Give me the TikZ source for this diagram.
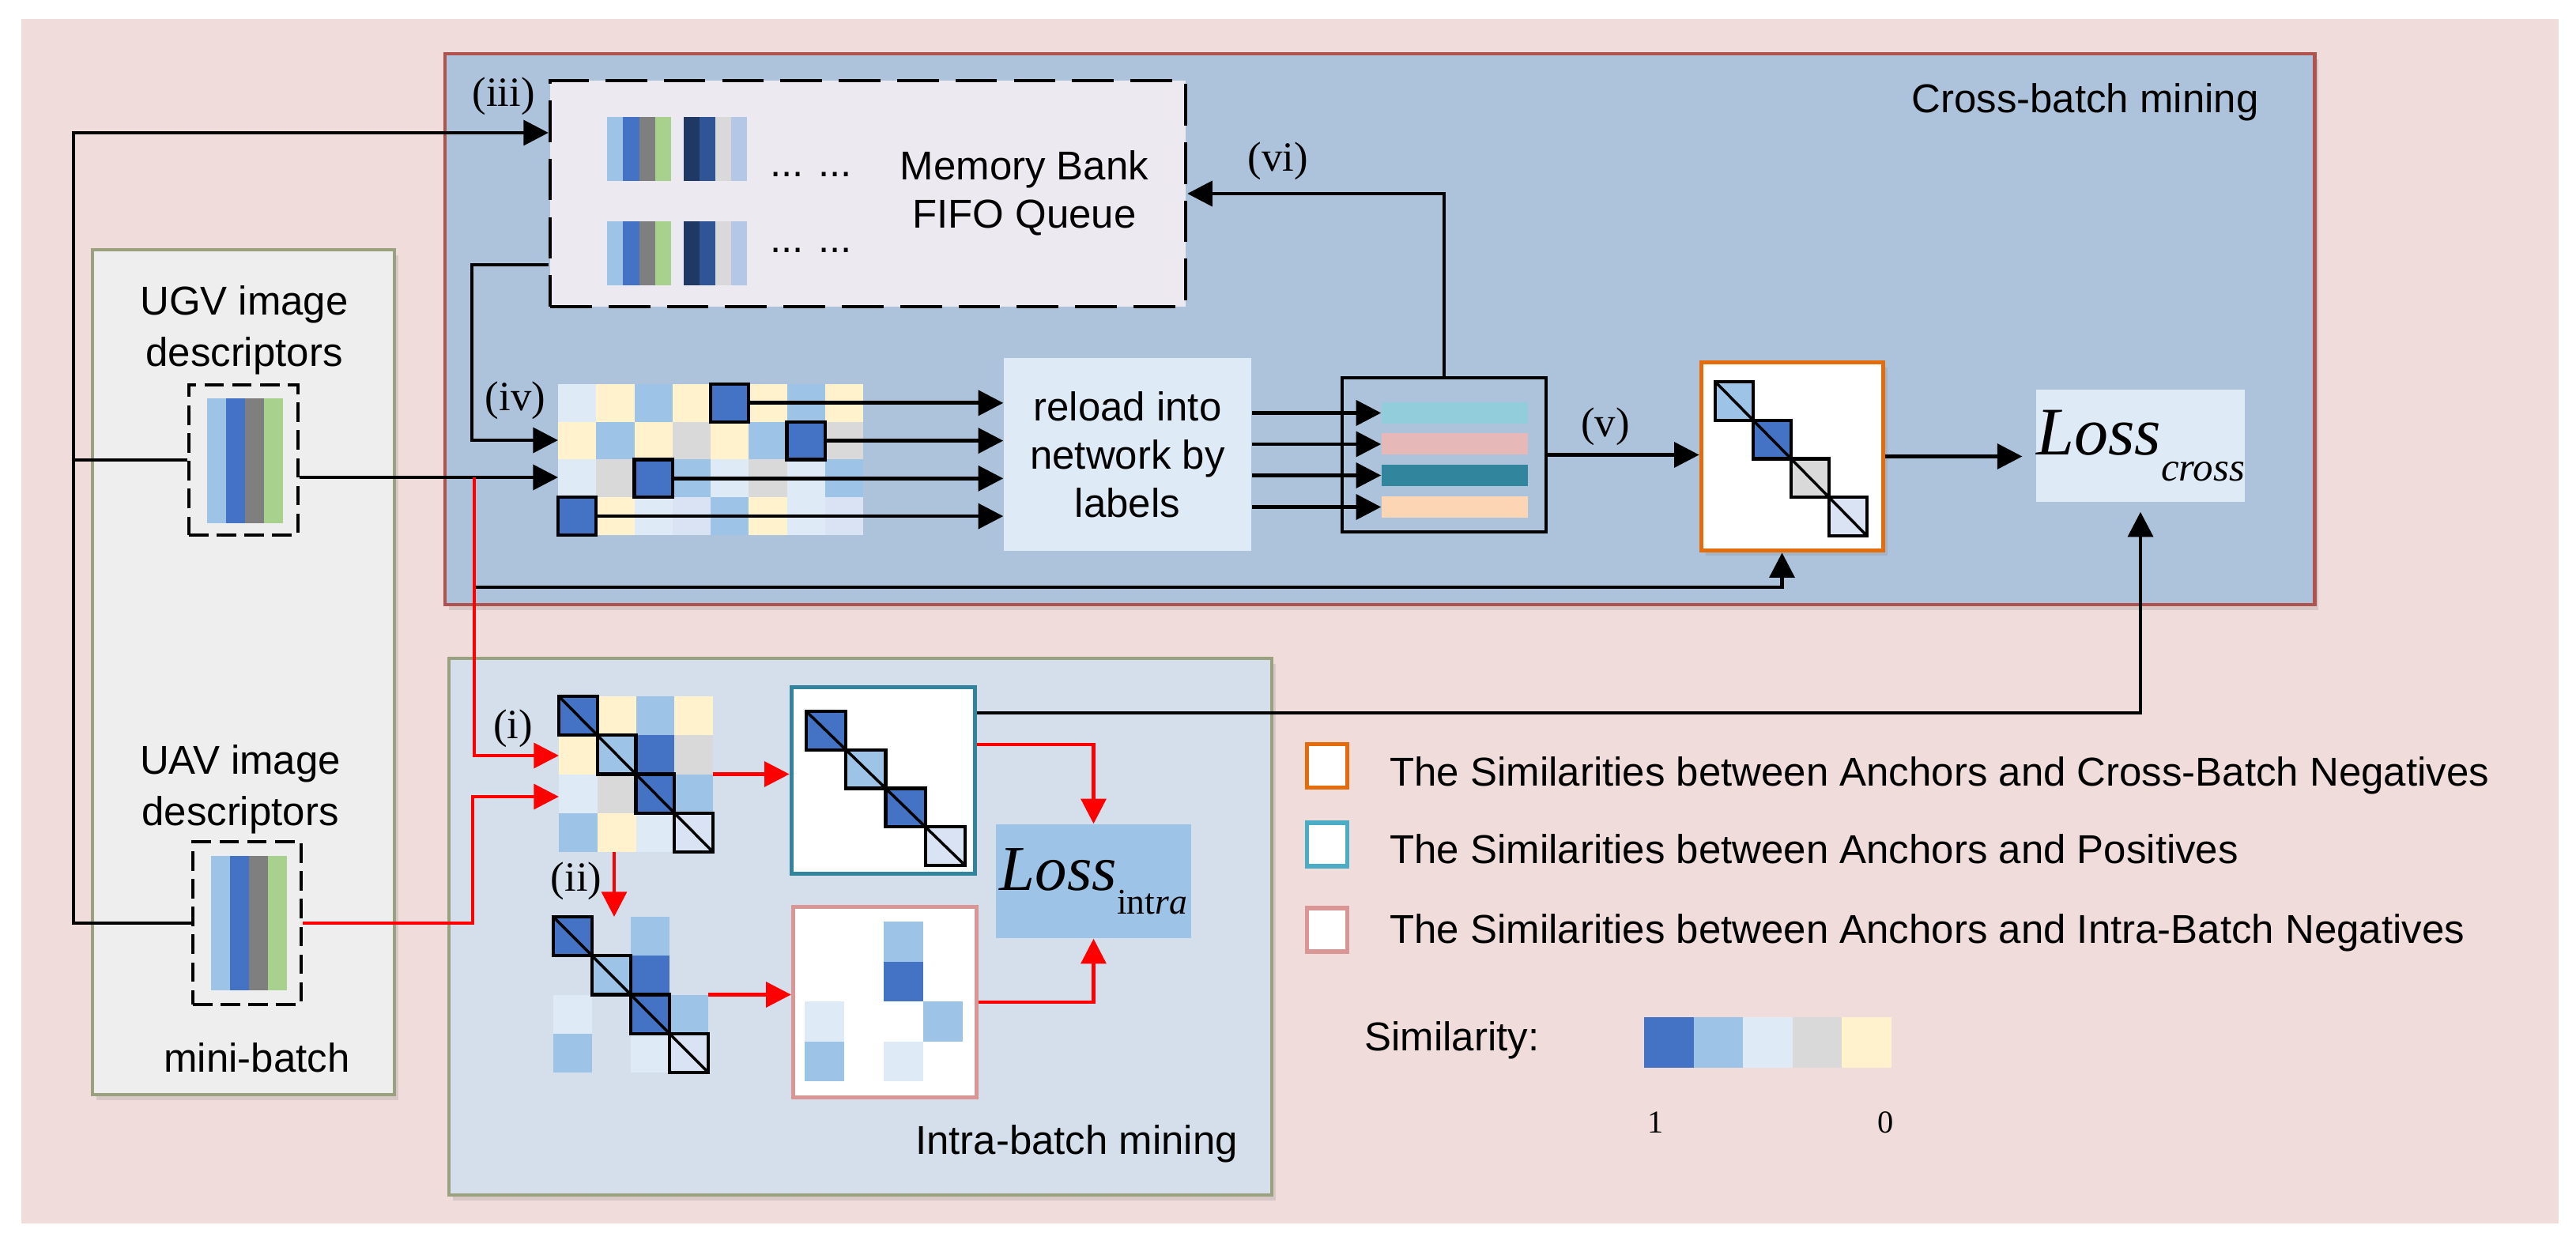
\documentclass[tikz,border=0pt]{standalone}
\usepackage{fontspec}
\setmainfont{Liberation Serif}
\setsansfont{Liberation Sans}
\usetikzlibrary{arrows.meta, positioning, shadows}

\definecolor{bgpink}{HTML}{F0DCDB}
\definecolor{crossfill}{HTML}{ADC3DC}
\definecolor{crossline}{HTML}{B0534E}
\definecolor{intrafill}{HTML}{D4DFEB}
\definecolor{minifill}{HTML}{EEEEEE}
\definecolor{oliveline}{HTML}{9AA17E}
\definecolor{memfill}{HTML}{ECE9F0}
\definecolor{simA}{HTML}{4472C4}
\definecolor{simB}{HTML}{9DC3E6}
\definecolor{simC}{HTML}{DEEBF7}
\definecolor{simD}{HTML}{D9D9D9}
\definecolor{simE}{HTML}{FFF2CC}
\definecolor{simL}{HTML}{DAE3F3}
\definecolor{stGray}{HTML}{7F7F7F}
\definecolor{stGreen}{HTML}{A9D18E}
\definecolor{stNavy}{HTML}{203864}
\definecolor{stBlue}{HTML}{2F5597}
\definecolor{stLav}{HTML}{B4C7E7}
\definecolor{barA}{HTML}{92CDDC}
\definecolor{barB}{HTML}{E6B9B8}
\definecolor{barC}{HTML}{31859C}
\definecolor{barD}{HTML}{FCD5B5}
\definecolor{orangeline}{HTML}{E46C0A}
\definecolor{tealline}{HTML}{31849B}
\definecolor{tealkey}{HTML}{4BACC6}
\definecolor{pinkline}{HTML}{D99694}

\tikzset{
  panel/.style={draw, rectangle, inner sep=0pt, line width=1.4pt},
  lift/.style={drop shadow={opacity=0.22, shadow xshift=0.05cm, shadow yshift=-0.07cm}},
  dashbox/.style={draw, dash pattern=on 7pt off 3pt, line width=1.1pt, inner sep=0pt},
  gridbox/.style={inner sep=0pt, outer sep=0pt},
  hl/.style={draw=black, line width=1.2pt},
  bar/.style={inner sep=0pt, minimum width=1.85cm, minimum height=0.27cm},
  lbl/.style={font=\sffamily\fontsize{14.5}{17.4}\selectfont},
  txt/.style={lbl, align=center},
  tagtxt/.style={font=\rmfamily\fontsize{15}{15}\selectfont},
  wire/.style={line width=1.35pt},
  redwire/.style={line width=1.2pt, draw=red, ->},
  emp/.style={fill=none},
}

\begin{document}
\begin{tikzpicture}[>={Triangle[length=9pt,width=9pt]}]
\useasboundingbox (0,0) rectangle (32.59,-15.74);
\fill[bgpink] (0.27,-0.24) rectangle (32.37,-15.48);

% panels
\node[panel, lift, draw=crossline, fill=crossfill, minimum width=23.65cm, minimum height=6.97cm] (cross) at (17.455,-4.165) {};
\node[panel, lift, draw=oliveline, fill=intrafill, minimum width=10.41cm, minimum height=6.79cm] (intra) at (10.885,-11.725) {};
\node[panel, lift, draw=oliveline, fill=minifill, minimum width=3.82cm, minimum height=10.69cm] (mini) at (3.08,-8.505) {};
\node[lbl, anchor=base] (crosstitle) at (26.38,-1.43) {Cross-batch mining};
\node[lbl, anchor=base] (intratitle) at (13.62,-14.60) {Intra-batch mining};
\node[lbl, anchor=base] (minititle) at (3.25,-13.56) {mini-batch};

% mini-batch descriptors
\node[txt, font=\sffamily\fontsize{14.5}{18.5}\selectfont] (ugvtext) at (3.09,-4.18) {UGV image\\descriptors};
\node[txt, font=\sffamily\fontsize{14.5}{18.5}\selectfont] (uavtext) at (3.04,-9.99) {UAV image\\descriptors};
\node[dashbox, minimum width=1.38cm, minimum height=1.9cm] (ugv) at (3.08,-5.82) {};
\node[dashbox, minimum width=1.37cm, minimum height=2.06cm] (uav) at (3.125,-11.68) {};
\foreach \c [count=\i from 0] in {simB,simA,stGray,stGreen} {
  \fill[\c] ({2.62+0.24*\i},-5.04) rectangle ++(0.24,-1.58);
  \fill[\c] ({2.67+0.24*\i},-10.83) rectangle ++(0.24,-1.70);
}

% memory bank
\node[dashbox, dash pattern=on 15pt off 6pt, line width=1.2pt, fill=memfill, minimum width=8.04cm, minimum height=2.86cm] (mem) at (10.98,-2.45) {};
\node[txt] (memtext) at (12.96,-2.44) {Memory Bank\\FIFO Queue};
\foreach \y in {1.48,2.80} {
  \foreach \c [count=\i from 0] in {simB,simA,stGray,stGreen}
    \fill[\c] ({7.68+0.2025*\i},-\y) rectangle ++(0.2025,-0.81);
  \foreach \c [count=\i from 0] in {stNavy,stBlue,simD,stLav}
    \fill[\c] ({8.65+0.2*\i},-\y) rectangle ++(0.2,-0.81);
}
\node[lbl, anchor=base] (dotsA) at (10.26,-2.24) {... ...};
\node[lbl, anchor=base] (dotsB) at (10.26,-3.20) {... ...};

% cross-batch similarity matrix
\node[gridbox, minimum width=3.86cm, minimum height=1.91cm] (miv) at (8.99,-5.815) {};
\begin{scope}[shift={(7.06,-4.86)}, x=0.4825cm, y=-0.4775cm]
\foreach \row [count=\r from 0] in {{simC,simE,simB,simE,simA,simE,simB,simE},{simE,simB,simE,simD,simE,simB,simA,simD},{simC,simD,simA,simB,simC,simD,simC,simB},{simA,simE,simC,simL,simB,simE,simC,simL}}
  \foreach \c [count=\k from 0] in \row
    \fill[\c] (\k,\r) rectangle ++(1,1);
\foreach \k/\r [count=\n] in {4/0,6/1,2/2,0/3} {
  \filldraw[hl, fill=simA] (\k,\r) rectangle ++(1,1);
  \coordinate (k\n) at (\k+1,\r+0.5);
}
\end{scope}

\node[txt, fill=simC, inner sep=0pt, minimum width=3.13cm, minimum height=2.44cm] (reload) at (14.265,-5.75) {reload into\\network by\\labels};

% feature stack
\node[panel, line width=1.4pt, minimum width=2.58cm, minimum height=1.95cm] (stack) at (18.27,-5.755) {};
\node[bar, fill=barA] (bar1) at (18.405,-5.225) {};
\node[bar, fill=barB] (bar2) at (18.405,-5.62) {};
\node[bar, fill=barC] (bar3) at (18.405,-6.015) {};
\node[bar, fill=barD] (bar4) at (18.405,-6.415) {};

% cross-batch negatives
\node[panel, lift, line width=1.6pt, draw=orangeline, fill=white, minimum width=2.3cm, minimum height=2.38cm] (orange) at (22.675,-5.775) {};
\begin{scope}[shift={(21.70,-4.83)}, x=0.48cm, y=-0.4875cm]
\foreach \c [count=\i from 0] in {simB,simA,simD,simL}
  \filldraw[hl, fill=\c] (\i,\i) rectangle ++(1,1);
\draw[line width=1pt] (0,0) -- (4,4);
\end{scope}

\node[fill=simC, inner sep=0pt, minimum width=2.58cm, minimum height=1.42cm, font=\rmfamily] (lossc) at (27.08,-5.64)
  {{\fontsize{24.5}{24.5}\selectfont\itshape Loss}\raisebox{-0.33cm}{\fontsize{14.5}{14.5}\selectfont\itshape cross}};

% intra-batch matrices
\node[gridbox, minimum width=1.95cm, minimum height=1.97cm] (mi) at (8.045,-9.795) {};
\begin{scope}[shift={(7.07,-8.81)}, x=0.4875cm, y=-0.4925cm]
\foreach \row [count=\r from 0] in {{simA,simE,simB,simE},{simE,simB,simA,simD},{simC,simD,simA,simB},{simB,simE,simC,simL}}
  \foreach \c [count=\k from 0] in \row
    \fill[\c] (\k,\r) rectangle ++(1,1);
\foreach \c [count=\i from 0] in {simA,simB,simA,simL}
  \filldraw[hl, fill=\c] (\i,\i) rectangle ++(1,1);
\draw[line width=1pt] (0,0) -- (4,4);
\end{scope}

\node[gridbox, minimum width=1.96cm, minimum height=1.97cm] (mii) at (7.98,-12.585) {};
\begin{scope}[shift={(7.00,-11.60)}, x=0.49cm, y=-0.4925cm]
\foreach \row [count=\r from 0] in {{simA,emp,simB,emp},{emp,simB,simA,emp},{simC,emp,simA,simB},{simB,emp,simC,simL}}
  \foreach \c [count=\k from 0] in \row
    \fill[\c] (\k,\r) rectangle ++(1,1);
\foreach \c [count=\i from 0] in {simA,simB,simA,simL}
  \filldraw[hl, fill=\c] (\i,\i) rectangle ++(1,1);
\draw[line width=1pt] (0,0) -- (4,4);
\end{scope}

% positives
\node[panel, line width=1.6pt, draw=tealline, fill=white, minimum width=2.32cm, minimum height=2.36cm] (teal) at (11.175,-9.875) {};
\begin{scope}[shift={(10.20,-9.00)}, x=0.5025cm, y=-0.4875cm]
\foreach \c [count=\i from 0] in {simA,simB,simA,simL}
  \filldraw[hl, fill=\c] (\i,\i) rectangle ++(1,1);
\draw[line width=1pt] (0,0) -- (4,4);
\end{scope}

% intra-batch negatives
\node[panel, line width=1.5pt, draw=pinkline, fill=white, minimum width=2.32cm, minimum height=2.41cm] (pink) at (11.195,-12.68) {};
\begin{scope}[shift={(10.18,-11.66)}, x=0.50cm, y=-0.505cm]
\foreach \k/\r/\c in {2/0/simB,2/1/simA,0/2/simC,3/2/simB,0/3/simB,2/3/simC}
  \fill[\c] (\k,\r) rectangle ++(1,1);
\end{scope}

\node[fill=simB, inner sep=0pt, minimum width=2.47cm, minimum height=1.44cm, font=\rmfamily] (lossi) at (13.835,-11.15)
  {{\fontsize{23}{23}\selectfont\itshape Loss}\raisebox{-0.3cm}{\fontsize{13}{13}\selectfont int\textit{ra}}};

% step labels
\node[tagtxt] (t3) at (6.37,-1.22) {(iii)};
\node[tagtxt] (t4) at (6.52,-5.07) {(iv)};
\node[tagtxt] (t5) at (20.31,-5.40) {(v)};
\node[tagtxt] (t6) at (16.17,-2.04) {(vi)};
\node[tagtxt] (t1) at (6.49,-9.22) {(i)};
\node[tagtxt] (t2) at (7.29,-11.15) {(ii)};

% black connectors
\coordinate (tl) at (0.93,-1.68);
\coordinate (split) at (6.00,-6.04);
\draw[wire,->] (uav.west) -| (tl) -- (tl -| mem.west);
\draw[wire] (ugv.west) -- (ugv.west -| tl);
\draw[wire,->] (split -| ugv.east) -- (split -| miv.west);
\draw[wire,->] ([yshift=-0.9cm]mem.west) -| (5.97,-5.57) -- ([yshift=0.245cm]miv.west);
\draw[wire,->] (split) -- ++(0,-1.39) -| ([xshift=-0.13cm]orange.south);
\foreach \n in {1,...,4}
  \draw[wire,->] (k\n) -- (k\n -| reload.west);
\foreach \n in {1,...,4}
  \draw[wire,->] (bar\n -| reload.east) -- (bar\n.west);
\draw[wire,->] (stack.north) |- (mem.east);
\draw[wire,->] (stack.east) -- (stack.east -| orange.west);
\draw[wire,->, shorten >=0.17cm] (orange.east) -- (orange.east -| lossc.west);
\draw[wire,->, shorten >=0.12cm] ([yshift=0.855cm]teal.east) -| (lossc.south);

% red connectors
\draw[redwire] (split) |- ([yshift=0.235cm]mi.west);
\draw[redwire] (uav.east) -| (5.98,-10.08) -- ([yshift=-0.285cm]mi.west);
\draw[redwire] (mi.east) -- (mi.east -| teal.west);
\draw[redwire] ([xshift=-0.275cm]mi.south) -- ([xshift=-0.275cm]mi.south |- mii.north);
\draw[redwire] (mii.east) -- (mii.east -| pink.west);
\draw[redwire] ([yshift=0.455cm]teal.east) -| (lossi.north);
\draw[redwire] (pink.east) -| (lossi.south);

% legend
\node[panel, line width=1.6pt, draw=orangeline, fill=white, minimum width=0.51cm, minimum height=0.55cm] (keyc) at (16.79,-9.69) {};
\node[panel, line width=1.6pt, draw=tealkey, fill=white, minimum width=0.51cm, minimum height=0.55cm] (keyp) at (16.79,-10.685) {};
\node[panel, line width=1.6pt, draw=pinkline, fill=white, minimum width=0.51cm, minimum height=0.55cm] (keyn) at (16.79,-11.765) {};
\node[lbl, anchor=base west] (keyctext) at (17.46,-9.94) {The Similarities between Anchors and Cross-Batch Negatives};
\node[lbl, anchor=base west] (keyptext) at (17.46,-10.92) {The Similarities between Anchors and Positives};
\node[lbl, anchor=base west] (keyntext) at (17.46,-11.93) {The Similarities between Anchors and Intra-Batch Negatives};
\node[lbl, anchor=base west] (simtext) at (17.14,-13.29) {Similarity:};
\foreach \c [count=\i from 0] in {simA,simB,simC,simD,simE}
  \fill[\c] ({20.80+0.626*\i},-12.87) rectangle ++(0.626,-0.64);
\node[font=\rmfamily\fontsize{11.5}{11.5}\selectfont] (one) at (20.95,-14.20) {1};
\node[font=\rmfamily\fontsize{11.5}{11.5}\selectfont] (zero) at (23.86,-14.20) {0};
\end{tikzpicture}
\end{document}
